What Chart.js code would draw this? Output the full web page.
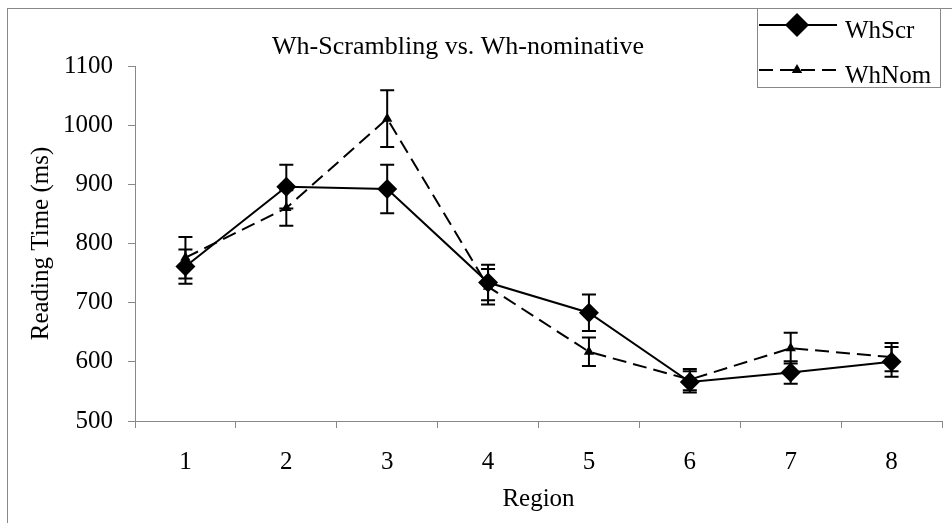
<!DOCTYPE html>
<html>
<head>
<meta charset="utf-8">
<title>Wh-Scrambling vs. Wh-nominative</title>
<script src="https://cdn.jsdelivr.net/npm/chart.js@4.4.1/dist/chart.umd.min.js"></script>
<style>
  html, body { margin: 0; padding: 0; background: #fff; }
  canvas { display: block; }
</style>
</head>
<body>
<canvas id="readingChart" width="952" height="523"></canvas>
<script>
// reading times per region (ms), with error bar half-widths
const regions = ['1', '2', '3', '4', '5', '6', '7', '8'];
const whScr = [761, 896, 892, 734, 683, 566, 582, 600];
const whScrErr = [29, 37, 41, 30, 31, 18, 19, 25];
const whNom = [776, 860, 1011, 727, 617, 570, 623, 608];
const whNomErr = [35, 30, 48, 30, 24, 18, 26, 24];
const yTicks = [500, 600, 700, 800, 900, 1000, 1100];

const SERIF = '"Liberation Serif", "Times New Roman", serif';
const AXIS_GREY = '#888888';

// vertical error bars with caps, drawn through the y scale
const errorBars = {
  id: 'errorBars',
  afterDatasetsDraw(chart) {
    const ctx = chart.ctx;
    const y = chart.scales.y;
    ctx.save();
    ctx.strokeStyle = '#000';
    ctx.lineWidth = 2;
    ctx.setLineDash([]);
    chart.data.datasets.forEach((ds, i) => {
      const meta = chart.getDatasetMeta(i);
      meta.data.forEach((pt, j) => {
        const top = y.getPixelForValue(ds.data[j] + ds.errors[j]);
        const bot = y.getPixelForValue(ds.data[j] - ds.errors[j]);
        ctx.beginPath();
        ctx.moveTo(pt.x, top);
        ctx.lineTo(pt.x, bot);
        ctx.moveTo(pt.x - 7, top);
        ctx.lineTo(pt.x + 7, top);
        ctx.moveTo(pt.x - 7, bot);
        ctx.lineTo(pt.x + 7, bot);
        ctx.stroke();
      });
    });
    ctx.restore();
  }
};

// outer frame, title and the boxed legend
const decorations = {
  id: 'decorations',
  beforeDraw(chart) {
    const ctx = chart.ctx;
    ctx.save();
    ctx.fillStyle = '#fff';
    ctx.fillRect(0, 0, chart.width, chart.height);
    ctx.strokeStyle = AXIS_GREY;
    ctx.lineWidth = 1;
    ctx.strokeRect(7.5, 8.5, 1000, 600);
    ctx.restore();
  },
  afterDraw(chart) {
    const ctx = chart.ctx;
    ctx.save();
    ctx.fillStyle = '#000';
    ctx.font = '26px ' + SERIF;
    ctx.textAlign = 'center';
    ctx.textBaseline = 'alphabetic';
    ctx.fillText('Wh-Scrambling vs. Wh-nominative', 458, 54);

    ctx.fillStyle = '#fff';
    ctx.fillRect(757, 8, 183, 79);
    ctx.strokeStyle = AXIS_GREY;
    ctx.lineWidth = 1;
    ctx.strokeRect(757.5, 8.5, 183, 79);

    const rows = [25, 70];
    chart.data.datasets.forEach((ds, i) => {
      const ly = rows[i];
      ctx.strokeStyle = '#000';
      ctx.lineWidth = ds.borderWidth;
      ctx.setLineDash(ds.borderDash || []);
      ctx.beginPath();
      ctx.moveTo(759, ly);
      ctx.lineTo(837, ly);
      ctx.stroke();
      ctx.setLineDash([]);
      ctx.fillStyle = '#000';
      Chart.helpers.drawPoint(ctx, {
        pointStyle: ds.pointStyle,
        rotation: 0,
        radius: ds.pointStyle === 'rectRot' ? 12 : 6,
        borderWidth: 0
      }, 797, ly);
      ctx.font = '25px ' + SERIF;
      ctx.textAlign = 'left';
      ctx.textBaseline = 'alphabetic';
      ctx.fillText(ds.label, 845, ly + 13);
    });
    ctx.restore();
  }
};

new Chart(document.getElementById('readingChart'), {
  type: 'line',
  data: {
    labels: regions,
    datasets: [
      {
        label: 'WhScr',
        data: whScr,
        errors: whScrErr,
        borderColor: '#000',
        backgroundColor: '#000',
        borderWidth: 2,
        pointStyle: 'rectRot',
        pointRadius: 10,
        pointHoverRadius: 10,
        pointBorderWidth: 0,
        tension: 0
      },
      {
        label: 'WhNom',
        data: whNom,
        errors: whNomErr,
        borderColor: '#000',
        backgroundColor: '#000',
        borderWidth: 2,
        borderDash: [14, 7],
        pointStyle: 'triangle',
        pointRadius: 6,
        pointHoverRadius: 6,
        pointBorderWidth: 0,
        tension: 0
      }
    ]
  },
  options: {
    responsive: false,
    animation: false,
    layout: { padding: { left: 8, right: 5, top: 66, bottom: 0 } },
    plugins: {
      legend: { display: false },
      title: { display: false },
      tooltip: { enabled: false }
    },
    scales: {
      x: {
        type: 'category',
        offset: true,
        grid: {
          offset: true,
          drawOnChartArea: false,
          drawTicks: true,
          tickLength: 7,
          color: AXIS_GREY
        },
        border: { color: AXIS_GREY, width: 1 },
        ticks: { color: '#000', font: { family: SERIF, size: 25 }, padding: 19, maxRotation: 0 },
        title: {
          display: true,
          text: 'Region',
          color: '#000',
          font: { family: SERIF, size: 25 },
          padding: { top: 0, bottom: 9 }
        },
        afterFit(scale) {
          scale.height = 102;
          scale.paddingLeft = 0;
          scale.paddingRight = 0;
        }
      },
      y: {
        min: yTicks[0],
        max: yTicks[yTicks.length - 1],
        grid: {
          drawOnChartArea: false,
          drawTicks: true,
          tickLength: 7,
          color: AXIS_GREY
        },
        border: { color: AXIS_GREY, width: 1 },
        ticks: {
          color: '#000',
          font: { family: SERIF, size: 25 },
          padding: 15,
          callback: v => String(v)
        },
        afterBuildTicks(scale) {
          scale.ticks = yTicks.map(v => ({ value: v }));
        },
        title: {
          display: true,
          text: 'Reading Time (ms)',
          color: '#000',
          font: { family: SERIF, size: 25 },
          padding: { top: 18, bottom: 0 }
        },
        afterFit(scale) {
          scale.width = 127;
          scale.paddingTop = 0;
          scale.paddingBottom = 0;
        }
      }
    }
  },
  plugins: [errorBars, decorations]
});
</script>
</body>
</html>
